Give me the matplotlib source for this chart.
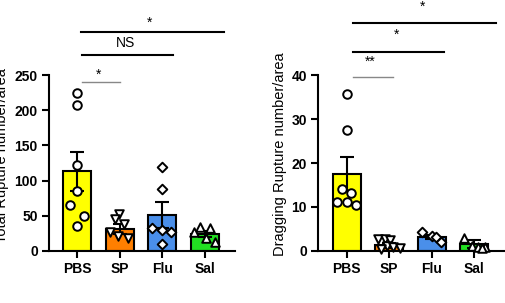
import matplotlib
matplotlib.use("Agg")
import matplotlib.pyplot as plt
import numpy as np

plt.rcParams["font.family"] = ["Liberation Sans", "DejaVu Sans"]

groups = ["PBS", "SP", "Flu", "Sal"]
colors = ["#FFFF00", "#FF7F00", "#4A8FEA", "#22E022"]
markers = ["o", "v", "D", "^"]

# Total rupture number/area
total_mean = [113, 31, 51, 24]
total_sem = [28, 7, 18, 4]
total_pts = [
    [224, 207, 122, 85, 65, 50, 36],
    [53, 46, 38, 27, 21, 18],
    [120, 88, 33, 30, 27, 10],
    [34, 33, 27, 18, 12],
]

# Dragging rupture number/area
drag_mean = [17.5, 1.3, 3.1, 1.5]
drag_sem = [3.9, 0.6, 0.5, 0.9]
drag_pts = [
    [35.6, 27.5, 14.1, 13.1, 11.2, 11.1, 10.5],
    [2.7, 2.7, 2.4, 1.0, 0.8, 0.7, 0.5],
    [4.4, 3.3, 3.1, 2.1],
    [2.9, 1.0, 0.9, 0.8, 0.7],
]

# horizontal jitter used for the scatter (style only)
total_jit = [
    [0, 0, 0, 0, -0.17, 0.17, 0],
    [-0.02, -0.12, 0.1, -0.24, -0.03, 0.2],
    [0, 0, -0.25, 0, 0.2, 0],
    [-0.12, 0.12, -0.25, 0.02, 0.23],
]
drag_jit = [
    [0, 0, -0.1, 0.11, -0.23, 0, 0.22],
    [-0.27, -0.09, 0.02, -0.05, 0.1, 0.25, -0.2],
    [-0.22, 0, 0.1, 0.22],
    [-0.24, -0.05, 0.1, 0.25, 0.18],
]

# significance brackets: (x0, x1, y_line, y_text, label, color, lw)
total_sig = [
    (0.12, 1.0, 240, 250, "*", "#888888", 1.0),
    (0.12, 2.25, 278, 296, "NS", "black", 1.5),
    (0.08, 3.44, 312, 324, "*", "black", 1.5),
]
drag_sig = [
    (0.15, 1.08, 39.6, 43.0, "**", "#888888", 1.0),
    (0.15, 2.3, 45.3, 49.3, "*", "black", 1.5),
    (0.15, 3.52, 51.8, 55.5, "*", "black", 1.5),
]

fig = plt.figure(figsize=(5.05, 3.03), dpi=100)
ax1 = fig.add_axes([0.097, 0.172, 0.368, 0.58])
ax2 = fig.add_axes([0.630, 0.172, 0.368, 0.58])


def panel(ax, means, sems, pts, jit, sig, ylim, yticks, ylabel, xlim):
    x = np.arange(len(groups))
    ax.bar(x, means, width=0.66, color=colors, edgecolor="black",
           linewidth=1.5, zorder=2)
    ax.errorbar(x, means, yerr=sems, fmt="none", ecolor="black",
                elinewidth=1.5, capsize=5, capthick=1.5, zorder=3)
    for i in range(len(groups)):
        xs = x[i] + np.array(jit[i])
        ax.scatter(xs, pts[i], marker=markers[i], s=38 if markers[i] != "D" else 24,
                   facecolor="white", edgecolor="black", linewidth=1.4,
                   zorder=4, clip_on=False)
    for x0, x1, yl, yt, lab, c, lw in sig:
        ax.plot([x0, x1], [yl, yl], color=c, lw=lw, clip_on=False)
        ax.text((x0 + x1) / 2 - 0.05, yt, lab, ha="center", va="center",
                fontsize=10, clip_on=False)
    ax.set_xlim(*xlim)
    ax.set_ylim(*ylim)
    ax.set_yticks(yticks)
    ax.set_xticks(x)
    ax.set_xticklabels(groups, fontsize=10, fontweight="bold")
    for t in ax.get_yticklabels():
        t.set_fontsize(10)
        t.set_fontweight("bold")
    ax.spines["top"].set_visible(False)
    ax.spines["right"].set_visible(False)
    ax.spines["left"].set_linewidth(1.5)
    ax.spines["bottom"].set_linewidth(1.5)
    ax.tick_params(axis="both", width=1.5, length=5, pad=3)
    ax.set_ylabel(ylabel, fontsize=10.5)


panel(ax1, total_mean, total_sem, total_pts, total_jit, total_sig,
      (0, 250), [0, 50, 100, 150, 200, 250], "Total Rupture number/area",
      (-0.66, 3.7))
ax1.yaxis.set_label_coords(-0.215, 0.54)

panel(ax2, drag_mean, drag_sem, drag_pts, drag_jit, drag_sig,
      (0, 40), [0, 10, 20, 30, 40], "Dragging Rupture number/area",
      (-0.67, 3.7))
ax2.yaxis.set_label_coords(-0.166, 0.55)

fig.savefig("out.png", dpi=100)
